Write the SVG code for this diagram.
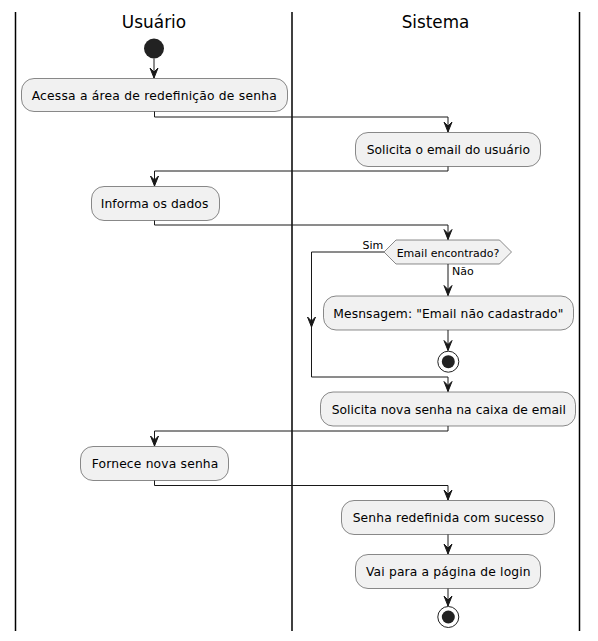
<svg xmlns="http://www.w3.org/2000/svg" width="598" height="641" viewBox="0 0 598 641">
<style>
.lane{stroke:#000;stroke-width:1.5}
.hdr{font-family:"DejaVu Sans",sans-serif;font-size:17px;fill:#000;text-anchor:middle}
.box{fill:#F1F1F1;stroke:#181818;stroke-width:0.5}
.t{font-family:"DejaVu Sans",sans-serif;font-size:12.3px;fill:#000;text-anchor:middle}
.s{font-family:"DejaVu Sans",sans-serif;font-size:11px;fill:#000}
.e{fill:none;stroke:#181818;stroke-width:1}
.ah{fill:#181818;stroke:#181818;stroke-width:1}
</style>
<defs>
<path id="arr" d="M0,0 L-4,-10 L0,-6 L4,-10 Z"/>
</defs>
<rect width="598" height="641" fill="#fff"/>
<g id="lanes">
<line class="lane" x1="15.5" y1="12" x2="15.5" y2="631"/>
<line class="lane" x1="292" y1="12" x2="292" y2="631"/>
<line class="lane" x1="579.5" y1="12" x2="579.5" y2="631"/>
<text class="hdr" x="154" y="28" textLength="64.3" lengthAdjust="spacingAndGlyphs">Usuário</text>
<text class="hdr" x="435.5" y="28" textLength="67.6" lengthAdjust="spacingAndGlyphs">Sistema</text>
</g>
<g id="start"><circle cx="154" cy="48.5" r="10" fill="#222"/></g>
<g id="n1"><rect class="box" x="21.5" y="78.5" width="266" height="33" rx="12.5"/><text class="t" x="154.2" y="100" textLength="245" lengthAdjust="spacing">Acessa a área de redefinição de senha</text></g>
<g id="n2"><rect class="box" x="355.5" y="132.5" width="185" height="34" rx="12.5"/><text class="t" x="448.3" y="154" textLength="163.3" lengthAdjust="spacing">Solicita o email do usuário</text></g>
<g id="n3"><rect class="box" x="91.5" y="186.5" width="128" height="34" rx="12.5"/><text class="t" x="154.5" y="208" textLength="107.6" lengthAdjust="spacing">Informa os dados</text></g>
<g id="d1"><polygon class="box" points="384,252 396,240 499.5,240 511.5,252 499.5,264 396,264"/><text class="s" x="448" y="256.5" text-anchor="middle">Email encontrado?</text></g>
<g id="n4"><rect class="box" x="323.5" y="296" width="250" height="34" rx="12.5"/><text class="t" x="448.3" y="317.5" textLength="230" lengthAdjust="spacing">Mesnsagem: "Email não cadastrado"</text></g>
<g id="stop1"><circle cx="448.3" cy="361.7" r="10.5" fill="none" stroke="#222" stroke-width="1"/><circle cx="448.3" cy="361.7" r="6.5" fill="#222"/></g>
<g id="n5"><rect class="box" x="320.5" y="392" width="255" height="34" rx="12.5"/><text class="t" x="448.8" y="413.5" textLength="234.3" lengthAdjust="spacing">Solicita nova senha na caixa de email</text></g>
<g id="n6"><rect class="box" x="80.5" y="446.5" width="148" height="34" rx="12.5"/><text class="t" x="155" y="468" textLength="126.7" lengthAdjust="spacing">Fornece nova senha</text></g>
<g id="n7"><rect class="box" x="341.5" y="500.5" width="213" height="34" rx="12.5"/><text class="t" x="448.3" y="522" textLength="191.3" lengthAdjust="spacing">Senha redefinida com sucesso</text></g>
<g id="n8"><rect class="box" x="355.5" y="554.5" width="185" height="34" rx="12.5"/><text class="t" x="448.3" y="576" textLength="164.7" lengthAdjust="spacing">Vai para a página de login</text></g>
<g id="stop2"><circle cx="448.3" cy="617" r="10.5" fill="none" stroke="#222" stroke-width="1"/><circle cx="448.3" cy="617" r="6.5" fill="#222"/></g>
<g id="connectors">
<path class="e" d="M154,58.5 V78"/><use href="#arr" class="ah" x="154" y="78"/>
<path class="e" d="M154.5,111.5 V117 H448 V132"/><use href="#arr" class="ah" x="448" y="132"/>
<path class="e" d="M448,166.5 V171 H154.5 V186"/><use href="#arr" class="ah" x="154.5" y="186"/>
<path class="e" d="M154.5,220.5 V225 H448 V239.5"/><use href="#arr" class="ah" x="448" y="239.5"/>
<path class="e" d="M448,264 V295.5"/><use href="#arr" class="ah" x="448" y="295.5"/>
<text class="s" x="452" y="275">Não</text>
<path class="e" d="M384,252 H311.5 V377 H448 V391.5"/><use href="#arr" class="ah" x="311.5" y="327"/><use href="#arr" class="ah" x="448" y="391.5"/>
<text class="s" x="362.5" y="249">Sim</text>
<path class="e" d="M448,330 V350.5"/><use href="#arr" class="ah" x="448" y="350.5"/>
<path class="e" d="M448,426 V431 H154.5 V446"/><use href="#arr" class="ah" x="154.5" y="446"/>
<path class="e" d="M154.5,480.5 V485.5 H448 V500"/><use href="#arr" class="ah" x="448" y="500"/>
<path class="e" d="M448,534.5 V554"/><use href="#arr" class="ah" x="448" y="554"/>
<path class="e" d="M448,588.5 V606"/><use href="#arr" class="ah" x="448" y="606"/>
</g>
</svg>
